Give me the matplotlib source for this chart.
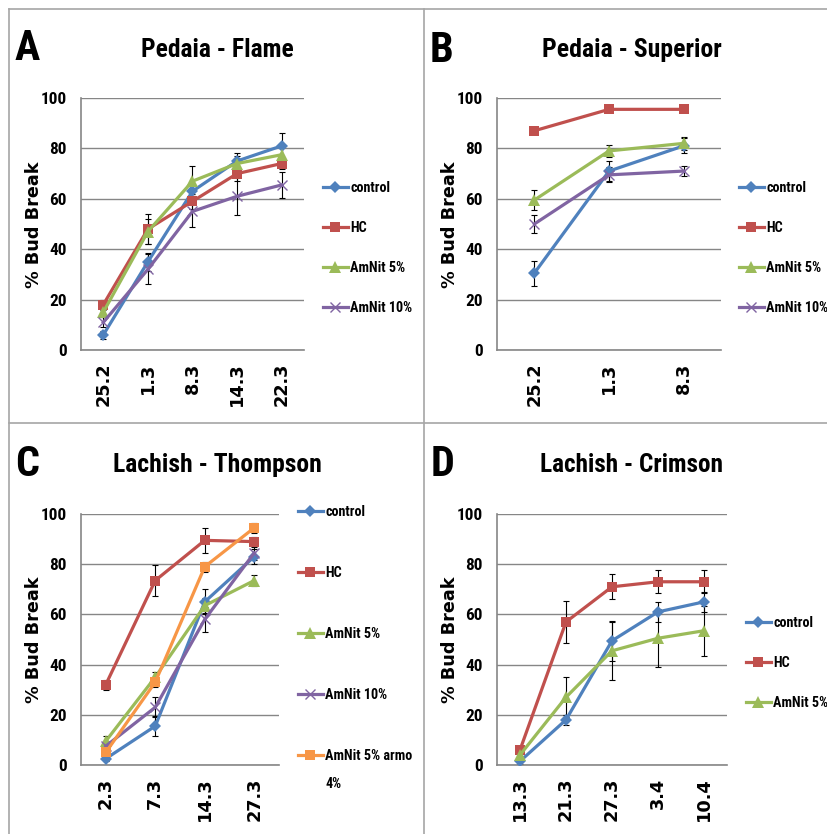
import os
import matplotlib
matplotlib.use("Agg")
import matplotlib.pyplot as plt
from matplotlib import font_manager as fm
from matplotlib.textpath import TextPath
from matplotlib.lines import Line2D

# ---- data ----
dates_a = ["25.2", "1.3", "8.3", "14.3", "22.3"]
a_control = [6, 35, 63, 75, 81]
a_control_err = [1.5, 3.5, 3, 3, 5]
a_hc = [18, 48, 59, 70, 74]
a_hc_err = [2, 6, 3, 3, 2]
a_amnit5 = [15, 47, 67, 74, 77.5]
a_amnit5_err = [2, 5, 6, 3, 3]
a_amnit10 = [11, 32, 55, 61, 65.5]
a_amnit10_err = [2, 6, 6, 7.5, 5]

dates_b = ["25.2", "1.3", "8.3"]
b_control = [30.5, 71, 81]
b_control_err = [5, 4, 3]
b_hc = [87, 95.5, 95.5]
b_hc_err = [1, 1, 1]
b_amnit5 = [59.5, 79, 82]
b_amnit5_err = [4, 2.5, 2.5]
b_amnit10 = [50, 69.5, 71]
b_amnit10_err = [3.5, 3, 2]

dates_c = ["2.3", "7.3", "14.3", "27.3"]
c_control = [2.5, 15.5, 65, 83]
c_control_err = [1, 4, 5, 3]
c_hc = [32, 73.5, 89.5, 89]
c_hc_err = [2, 6, 5, 2]
c_amnit5 = [9.5, 35, 63.5, 73.5]
c_amnit5_err = [2, 2, 3, 2]
c_amnit10 = [7.5, 23, 58, 84.5]
c_amnit10_err = [2, 4, 5, 3]
c_armo = [5, 33, 79, 94.5]
c_armo_err = [1, 2, 2, 2]

dates_d = ["13.3", "21.3", "27.3", "3.4", "10.4"]
d_control = [1.5, 18, 49.5, 61, 65]
d_control_err = [1, 2, 8, 4, 4]
d_hc = [6, 57, 71, 73, 73]
d_hc_err = [1, 8.5, 5, 4.5, 4.5]
d_amnit5 = [4, 27, 45.5, 50.5, 53.5]
d_amnit5_err = [2, 8, 11.5, 11.5, 10]

STYLES = {
    "control": dict(color="#4F81BD", marker="D", ms=6.5, mew=0),
    "HC": dict(color="#C0504D", marker="s", ms=7.5, mew=0),
    "AmNit 5%": dict(color="#9BBB59", marker="^", ms=8, mew=0),
    "AmNit 10%": dict(color="#8064A2", marker="x", ms=7.5, mew=1.0),
    "AmNit 5% armo": dict(color="#F79646", marker="s", ms=7.5, mew=0),
}


def find_font(patterns):
    for inc in patterns:
        for f in fm.fontManager.ttflist:
            base = os.path.basename(f.fname).lower()
            if all(k in base for k in inc) and "italic" not in base \
                    and "oblique" not in base:
                return f.fname
    return None


narrow_path = find_font([("liberationsansnarrow", "bold"),
                         ("robotocondensed", "bold"),
                         ("opensans", "condensed", "bold"),
                         ("dejavusanscondensed-bold",),
                         ("condensed", "bold")])
if narrow_path:
    NARROW = fm.FontProperties(fname=narrow_path)
else:
    NARROW = fm.FontProperties(family="Liberation Sans", weight="bold")
WIDE = fm.FontProperties(family="DejaVu Sans", weight="bold")


def sized(base, size):
    p = base.copy()
    p.set_size(size)
    return p


def fit(base, s, target_px, dim="w"):
    ext = TextPath((0, 0), s, prop=sized(base, 10)).get_extents()
    v = ext.width if dim == "w" else ext.height
    return 10 * target_px / (v * 100 / 72)


W, H = 828, 834
fig = plt.figure(figsize=(W / 100, H / 100), dpi=100)

# the reference is squeezed sideways, so narrow text is made a bit wider
TICK_Y = sized(NARROW, fit(NARROW, "100", 24))
TICK_X = sized(WIDE, fit(WIDE, "25.2", 41))
YLAB = sized(WIDE, fit(WIDE, "% Bud Break", 126))
LETTER = sized(NARROW, fit(NARROW, "A", 30, "h"))
LEG_SIZE = fit(NARROW, "AmNit 10%", 61)
LEG = sized(NARROW, LEG_SIZE)
TITLE_SCALE = 1.15


def px_axes(x0, y0, x1, y1):
    return fig.add_axes([x0 / W, 1 - y1 / H, (x1 - x0) / W, (y1 - y0) / H])


def place_legend(ax, handles, x_px, first_y, pitch):
    fs_px = LEG_SIZE * 100 / 72
    spacing = 1.0
    top = first_y - fs_px * 0.6
    leg = None
    for _ in range(4):
        leg = ax.legend(handles=handles, loc="upper left",
                        bbox_to_anchor=(x_px / W, 1 - top / H),
                        bbox_transform=fig.transFigure, frameon=False,
                        handlelength=25 * 0.72 / LEG_SIZE, handletextpad=0.15,
                        borderpad=0, borderaxespad=0, labelspacing=spacing,
                        prop=LEG)
        fig.canvas.draw()
        bbs = [t.get_window_extent() for t in leg.get_texts()[:2]]
        c0 = H - (bbs[0].y0 + bbs[0].y1) / 2
        c1 = H - (bbs[1].y0 + bbs[1].y1) / 2
        spacing += (pitch - (c1 - c0)) / fs_px
        top += first_y - c0
    return leg


def draw_panel(rect, dates, series, letter, title, title_w, letter_xy, title_xy,
               ylab_xy, leg_x, leg_y, pitch, wrapped=None):
    ax = px_axes(*rect)
    xs = list(range(len(dates)))
    handles = []
    for name, vals, errs in series:
        st = STYLES[name]
        ax.errorbar(xs, vals, yerr=errs, fmt="none", ecolor="black",
                    elinewidth=0.8, capsize=2.5, capthick=0.8, zorder=2.5)
        ax.plot(xs, vals, color=st["color"], lw=2.3, marker=st["marker"],
                ms=st["ms"], mew=st["mew"], mec=st["color"], mfc=st["color"],
                zorder=3)
        handles.append(Line2D([], [], color=st["color"], lw=2.3,
                              marker=st["marker"], ms=st["ms"], mew=st["mew"],
                              mec=st["color"], mfc=st["color"], label=name))
    ax.set_xlim(-0.5, len(dates) - 0.5)
    ax.set_ylim(0, 100)
    ax.set_yticks([0, 20, 40, 60, 80, 100])
    ax.set_xticks(xs)
    ax.set_xticklabels(dates, rotation=90)
    for lab in ax.get_xticklabels():
        lab.set_fontproperties(TICK_X)
    for lab in ax.get_yticklabels():
        lab.set_fontproperties(TICK_Y)
    ax.tick_params(axis="x", length=0, pad=9)
    ax.tick_params(axis="y", length=0, pad=10)
    ax.grid(axis="y", color="#868686", lw=1.0)
    ax.set_axisbelow(True)
    for s in ("top", "right"):
        ax.spines[s].set_visible(False)
    for s in ("left", "bottom"):
        ax.spines[s].set_color("#868686")
        ax.spines[s].set_linewidth(1.2)

    fig.text(letter_xy[0] / W, 1 - letter_xy[1] / H, letter, ha="center",
             va="center", fontproperties=LETTER)
    fig.text(title_xy[0] / W, 1 - title_xy[1] / H, title, ha="center",
             va="center",
             fontproperties=sized(NARROW, fit(NARROW, title, title_w * TITLE_SCALE)))
    fig.text(ylab_xy[0] / W, 1 - ylab_xy[1] / H, "% Bud Break", ha="center",
             va="center", rotation=90, fontproperties=YLAB)
    leg = place_legend(ax, handles, leg_x, leg_y, pitch)
    if wrapped:
        # second line of the last legend label, wrapped as in the original
        text, gap = wrapped
        bb = leg.get_texts()[-1].get_window_extent()
        fig.text(bb.x0 / W, ((bb.y0 + bb.y1) / 2 - gap) / H, text,
                 ha="left", va="center", fontproperties=LEG)
    return ax


draw_panel((81, 98, 304, 350), dates_a,
           [("control", a_control, a_control_err),
            ("HC", a_hc, a_hc_err),
            ("AmNit 5%", a_amnit5, a_amnit5_err),
            ("AmNit 10%", a_amnit10, a_amnit10_err)],
           "A", "Pedaia - Flame", 131, (27, 48), (217, 50), (34, 225),
           323, 188, 40)

draw_panel((497, 98, 721, 350), dates_b,
           [("control", b_control, b_control_err),
            ("HC", b_hc, b_hc_err),
            ("AmNit 5%", b_amnit5, b_amnit5_err),
            ("AmNit 10%", b_amnit10, b_amnit10_err)],
           "B", "Pedaia - Superior", 155, (442, 50), (632, 50), (450, 225),
           739, 188, 40)

draw_panel((81, 514, 279, 765), dates_c,
           [("control", c_control, c_control_err),
            ("HC", c_hc, c_hc_err),
            ("AmNit 5%", c_amnit5, c_amnit5_err),
            ("AmNit 10%", c_amnit10, c_amnit10_err),
            ("AmNit 5% armo", c_armo, c_armo_err)],
           "C", "Lachish - Thompson", 179, (27, 464), (217, 465), (34, 640),
           298, 512, 61, wrapped=("4%", 28))

draw_panel((497, 514, 727, 765), dates_d,
           [("control", d_control, d_control_err),
            ("HC", d_hc, d_hc_err),
            ("AmNit 5%", d_amnit5, d_amnit5_err)],
           "D", "Lachish - Crimson", 157, (443, 464), (632, 465), (450, 640),
           746, 623, 40)

# panel borders
border = dict(color="#A6A6A6", lw=1.2, transform=fig.transFigure)
fig.add_artist(Line2D([9 / W, 9 / W], [0, 1 - 9 / H], **border))
fig.add_artist(Line2D([424 / W, 424 / W], [0, 1 - 9 / H], **border))
fig.add_artist(Line2D([9 / W, 1], [1 - 9 / H, 1 - 9 / H], **border))
fig.add_artist(Line2D([9 / W, 1], [1 - 423 / H, 1 - 423 / H], **border))

fig.savefig("out.png", dpi=100)
